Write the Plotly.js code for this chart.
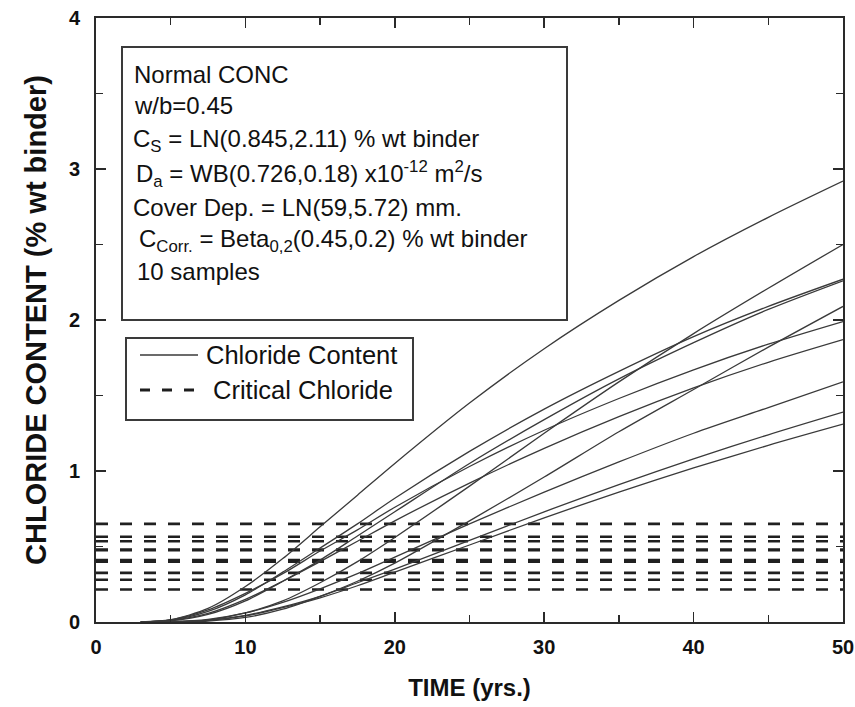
<!DOCTYPE html>
<html>
<head>
<meta charset="utf-8">
<script src="https://cdn.plot.ly/plotly-3.0.1.min.js"></script>
<style>
  html, body { margin: 0; padding: 0; background: #ffffff; }
  #chart { width: 855px; height: 707px; }
</style>
</head>
<body>
<div id="chart"></div>
<script>
// Time axis (years) shared by all simulated chloride profiles
const years = [3, 5, 7.5, 10, 12.5, 15, 17.5, 20, 25, 30, 35, 40, 45, 50];

// Chloride content at the rebar depth, % wt binder, one array per sample
const sample1  = [0, 0.015, 0.09, 0.235, 0.42, 0.63, 0.84, 1.05, 1.45, 1.81, 2.13, 2.42, 2.68, 2.92];
const sample2  = [0, 0.012, 0.07, 0.18, 0.33, 0.49, 0.65, 0.82, 1.13, 1.41, 1.66, 1.89, 2.09, 2.27];
const sample3  = [0, 0.007, 0.05, 0.14, 0.27, 0.41, 0.57, 0.73, 1.05, 1.34, 1.61, 1.85, 2.07, 2.26];
const sample4  = [0, 0.001, 0.013, 0.06, 0.14, 0.26, 0.40, 0.56, 0.90, 1.25, 1.59, 1.91, 2.21, 2.50];
const sample5  = [0, 0.014, 0.08, 0.19, 0.32, 0.47, 0.61, 0.76, 1.03, 1.27, 1.48, 1.67, 1.84, 1.99];
const sample6  = [0, 0.01, 0.057, 0.15, 0.27, 0.40, 0.535, 0.67, 0.92, 1.15, 1.36, 1.55, 1.72, 1.87];
const sample7  = [0, 0, 0.006, 0.03, 0.085, 0.17, 0.27, 0.39, 0.67, 0.96, 1.26, 1.54, 1.82, 2.09];
const sample8  = [0, 0.002, 0.017, 0.06, 0.13, 0.22, 0.32, 0.43, 0.65, 0.86, 1.06, 1.25, 1.42, 1.59];
const sample9  = [0, 0.001, 0.012, 0.044, 0.10, 0.17, 0.26, 0.35, 0.54, 0.73, 0.91, 1.08, 1.24, 1.39];
const sample10 = [0, 0.001, 0.011, 0.04, 0.095, 0.16, 0.24, 0.33, 0.51, 0.69, 0.86, 1.02, 1.17, 1.31];

// Critical chloride threshold drawn for each sample (% wt binder)
const criticalChloride = [0.65, 0.565, 0.535, 0.48, 0.475, 0.41, 0.40, 0.325, 0.28, 0.215];
const timeSpan = [0, 50];

// Annotation text block and legend labels
const infoLines = [
  "Normal CONC",
  "w/b=0.45",
  "C<sub>S</sub> = LN(0.845,2.11) % wt binder",
  "D<sub>a</sub> = WB(0.726,0.18) x10<sup>-12</sup> m<sup>2</sup>/s",
  "Cover Dep. = LN(59,5.72) mm.",
  "C<sub>Corr.</sub> = Beta<sub>0,2</sub>(0.45,0.2) % wt binder",
  "10 samples"
];
const legendLabels = ["Chloride Content", "Critical Chloride"];

const samples = [sample1, sample2, sample3, sample4, sample5,
                 sample6, sample7, sample8, sample9, sample10];

const traces = [];
criticalChloride.forEach((c) => {
  traces.push({
    x: timeSpan, y: [c, c], type: "scatter", mode: "lines",
    name: legendLabels[1], showlegend: false, hoverinfo: "skip",
    line: { color: "#202020", width: 2.6, dash: "12px,12px" }
  });
});
samples.forEach((s) => {
  traces.push({
    x: years, y: s, type: "scatter", mode: "lines",
    name: legendLabels[0], showlegend: false,
    line: { color: "#3a3a3a", width: 1.3, shape: "spline", smoothing: 0.8 }
  });
});

// Pixel helpers for the in-plot text box and legend (plot area 96..843 x 18..622)
const PL = 96, PR = 843, PT = 18, PB = 622;
const px = v => (v - PL) / (PR - PL);
const py = v => (PB - v) / (PB - PT);

const textFont = { family: "Liberation Sans, Arial, sans-serif", size: 24, color: "#111" };
const legendFont = { family: "Liberation Sans, Arial, sans-serif", size: 25.5, color: "#111" };
const infoX = [132, 132, 131, 134, 131, 137, 135];
const infoY = [75, 106, 140, 174, 207, 240, 271];

const annotations = infoLines.map((t, i) => ({
  xref: "paper", yref: "paper", x: px(infoX[i]), y: py(infoY[i]),
  xanchor: "left", yanchor: "middle", showarrow: false, align: "left",
  text: t, font: textFont
}));
annotations.push({
  xref: "paper", yref: "paper", x: px(204), y: py(355), xanchor: "left", yanchor: "middle",
  showarrow: false, text: legendLabels[0], font: legendFont
});
annotations.push({
  xref: "paper", yref: "paper", x: px(211), y: py(390), xanchor: "left", yanchor: "middle",
  showarrow: false, text: legendLabels[1], font: legendFont
});

const shapes = [
  // information box
  { type: "rect", xref: "paper", yref: "paper", x0: px(122), x1: px(567), y0: py(320), y1: py(47),
    line: { color: "#3a3a3a", width: 2 }, fillcolor: "rgba(0,0,0,0)" },
  // legend box
  { type: "rect", xref: "paper", yref: "paper", x0: px(126), x1: px(413), y0: py(420), y1: py(338),
    line: { color: "#3a3a3a", width: 2 }, fillcolor: "rgba(0,0,0,0)" },
  // legend samples
  { type: "line", xref: "paper", yref: "paper", x0: px(140), x1: px(198), y0: py(355), y1: py(355),
    line: { color: "#3a3a3a", width: 1.5 } },
  { type: "line", xref: "paper", yref: "paper", x0: px(140), x1: px(198), y0: py(390), y1: py(390),
    line: { color: "#1e1e1e", width: 3, dash: "10px,12px" } }
];

const axisCommon = {
  showgrid: false, zeroline: false, showline: true, linecolor: "#2a2a2a", linewidth: 2,
  mirror: "ticks", ticks: "inside", ticklen: 10, tickwidth: 1.5, tickcolor: "#2a2a2a",
  tickfont: { family: "Liberation Sans, Arial, sans-serif", size: 20, color: "#111", weight: 700 }
};

const layout = {
  width: 855, height: 707,
  margin: { l: 96, r: 12, t: 18, b: 85 },
  paper_bgcolor: "#ffffff", plot_bgcolor: "#ffffff",
  showlegend: false,
  xaxis: Object.assign({}, axisCommon, {
    range: [0, 50], dtick: 10, tick0: 0,
    minor: { ticks: "inside", dtick: 5, ticklen: 7, tickwidth: 1.5, tickcolor: "#2a2a2a" },
    ticklabelstandoff: 6,
    title: { text: "TIME (yrs.)", standoff: 22,
             font: { family: "Liberation Sans, Arial, sans-serif", size: 24, color: "#111", weight: 700 } }
  }),
  yaxis: Object.assign({}, axisCommon, {
    range: [0, 4], dtick: 1, tick0: 0,
    minor: { ticks: "inside", dtick: 0.5, ticklen: 7, tickwidth: 1.5, tickcolor: "#2a2a2a" },
    ticklabelstandoff: 10,
    title: { text: "CHLORIDE CONTENT (% wt binder)", standoff: 14,
             font: { family: "Liberation Sans, Arial, sans-serif", size: 29, color: "#111", weight: 700 } }
  }),
  annotations: annotations,
  shapes: shapes
};

Plotly.newPlot("chart", traces, layout, { displayModeBar: false, staticPlot: true });
</script>
</body>
</html>
